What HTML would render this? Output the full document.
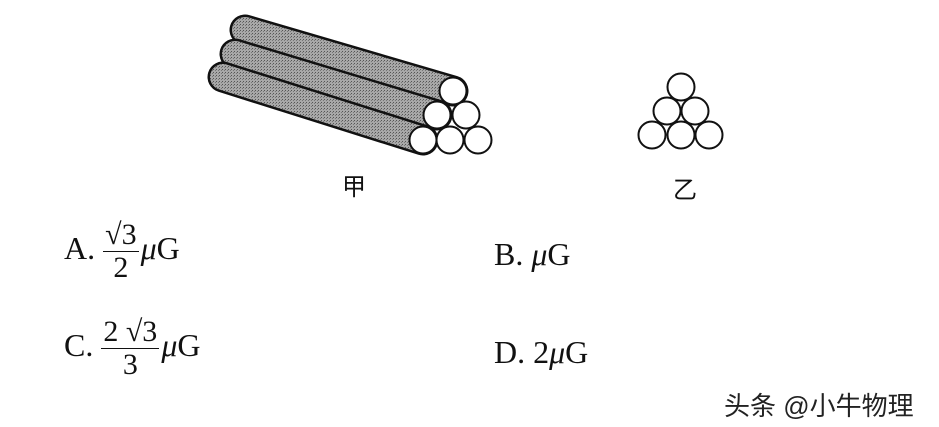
<!DOCTYPE html>
<html><head><meta charset="utf-8"><style>
body{margin:0;background:#fff;width:939px;height:427px;overflow:hidden;position:relative;font-family:"Liberation Serif","Noto Serif CJK SC",serif}
.t{position:absolute;font-size:32px;color:#111;white-space:nowrap}
.fr{display:inline-block;vertical-align:middle;text-align:center;font-size:30px;line-height:32px;margin-right:2px}
.fr .n{border-bottom:1.5px solid #111;padding:0 2px}
i{font-style:italic}
</style></head><body>
<svg width="939" height="427" style="position:absolute;left:0;top:0">
<defs><pattern id="p" width="3" height="3" patternUnits="userSpaceOnUse"><rect width="3" height="3" fill="#a8a8a8"/><rect width="1" height="1" fill="#555"/><rect x="2" y="1" width="1" height="1" fill="#777"/></pattern></defs>
<g stroke-linecap="round">
<line x1="245" y1="30" x2="453" y2="91" stroke="#111" stroke-width="31"/>
<line x1="245" y1="30" x2="453" y2="91" stroke="url(#p)" stroke-width="26"/>
<line x1="235" y1="54" x2="437" y2="115" stroke="#111" stroke-width="31"/>
<line x1="235" y1="54" x2="437" y2="115" stroke="url(#p)" stroke-width="26"/>
<line x1="223" y1="77" x2="423" y2="140" stroke="#111" stroke-width="31"/>
<line x1="223" y1="77" x2="423" y2="140" stroke="url(#p)" stroke-width="26"/>
</g>
<g fill="#fff" stroke="#111" stroke-width="2">
<circle cx="453" cy="91" r="13.5"/><circle cx="437" cy="115" r="13.5"/><circle cx="466" cy="115" r="13.5"/>
<circle cx="423" cy="140" r="13.5"/><circle cx="450" cy="140" r="13.5"/><circle cx="478" cy="140" r="13.5"/>
<circle cx="681" cy="87" r="13.5"/><circle cx="667" cy="111" r="13.5"/><circle cx="695" cy="111" r="13.5"/>
<circle cx="652" cy="135" r="13.5"/><circle cx="681" cy="135" r="13.5"/><circle cx="709" cy="135" r="13.5"/>
</g>
</svg>
<div class="t" style="left:342px;top:167px;font-size:24px;font-family:'Noto Sans CJK SC',sans-serif">甲</div>
<div class="t" style="left:673px;top:170px;font-size:24px;font-family:'Noto Sans CJK SC',sans-serif">乙</div>
<div class="t" style="left:64px;top:219px">A. <span class="fr"><div class="n">√3</div><div>2</div></span><i>μ</i>G</div>
<div class="t" style="left:494px;top:236px">B. <i>μ</i>G</div>
<div class="t" style="left:64px;top:316px">C. <span class="fr"><div class="n">2 √3</div><div>3</div></span><i>μ</i>G</div>
<div class="t" style="left:494px;top:334px">D. 2<i>μ</i>G</div>
<div class="t" style="left:724px;top:386px;font-size:26px;font-family:'Liberation Sans','Noto Sans CJK SC',sans-serif;color:#222">头条 @小牛物理</div>
</body></html>
